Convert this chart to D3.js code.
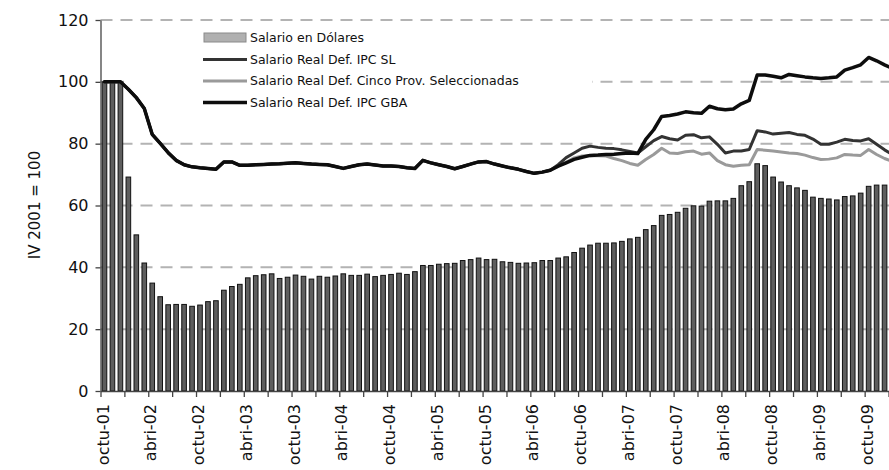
<!DOCTYPE html>
<html><head><meta charset="utf-8">
<script src="https://cdn.jsdelivr.net/npm/d3@7"></script>
<style>
body{margin:0;background:#fff}
svg{display:block}
text{font-family:"DejaVu Sans",Verdana,sans-serif;fill:#111}
</style>
</head><body>
<svg id="c" width="889" height="470"></svg>
<script>
// ---- data ----
const MONTHS = ["ener","febr","marz","abri","mayo","juni","juli","agos","sept","octu","novi","dici"];
const START_YEAR = 2001, START_MONTH = 9; // octubre 2001
const N_CATS = 100;
const categories = d3.range(N_CATS).map(i => {
  const k = START_MONTH + i;
  return MONTHS[k % 12] + "-" + String((START_YEAR + Math.floor(k / 12)) % 100).padStart(2, "0");
});
const yTicks = [0, 20, 40, 60, 80, 100, 120];

const salarioDolares = [
 100,100,100,69.2,50.5,41.4,34.9,30.5,27.9,28.0,
 28.0,27.4,27.8,28.9,29.2,32.6,33.8,34.5,36.6,37.3,
 37.6,37.9,36.4,36.8,37.5,37.1,36.2,37.1,36.8,37.2,
 37.9,37.4,37.4,37.8,37.0,37.4,37.7,38.1,37.7,38.6,
 40.6,40.6,41.0,41.2,41.3,42.2,42.5,43.0,42.5,42.6,
 41.8,41.6,41.3,41.4,41.5,42.2,42.2,43.0,43.4,44.8,
 46.2,47.2,47.8,47.8,47.9,48.4,49.2,49.7,52.2,53.5,
 56.8,57.1,57.8,59.1,59.9,59.8,61.4,61.5,61.5,62.3,
 66.4,67.7,73.5,72.9,69.2,67.6,66.4,65.7,64.9,62.7,
 62.3,62.1,61.8,62.9,63.1,64.0,66.2,66.6,66.6,67.0];

const realSL = [
 100,100,100,97.6,94.9,91.4,83.0,80.1,77.1,74.6,
 73.2,72.5,72.2,72.0,71.7,74.1,74.1,73.0,73.0,73.2,
 73.3,73.4,73.5,73.7,73.8,73.6,73.4,73.3,73.2,72.6,
 72.0,72.6,73.2,73.4,73.1,72.8,72.8,72.6,72.2,72.0,
 74.6,73.8,73.2,72.6,71.9,72.6,73.4,74.1,74.2,73.4,
 72.8,72.2,71.7,71.0,70.4,70.8,71.4,73.2,75.5,77.0,
 78.5,79.2,78.8,78.5,78.4,78.0,77.5,77.0,79.0,81.0,
 82.3,81.6,81.2,82.7,82.9,81.9,82.2,79.8,77.0,77.6,
 77.6,78.1,84.2,83.8,83.1,83.4,83.6,83.0,82.7,81.5,
 79.8,79.8,80.5,81.4,81.0,80.9,81.6,79.8,78.0,76.5];

const realCinco = [
 100,100,100,97.6,94.9,91.4,83.0,80.1,77.1,74.6,
 73.2,72.5,72.2,72.0,71.7,74.1,74.1,73.0,73.0,73.2,
 73.3,73.4,73.5,73.7,73.8,73.6,73.4,73.3,73.2,72.6,
 72.0,72.6,73.2,73.4,73.1,72.8,72.8,72.6,72.2,72.0,
 74.6,73.8,73.2,72.6,71.9,72.6,73.4,74.1,74.2,73.4,
 72.8,72.2,71.7,71.0,70.4,70.8,71.4,72.7,74.0,75.4,
 76.0,76.2,76.1,76.0,75.2,74.5,73.6,73.0,74.9,76.5,
 78.5,77.0,76.8,77.4,77.6,76.6,77.0,74.5,73.2,72.7,
 73.0,73.2,78.1,77.9,77.6,77.3,77.0,76.8,76.3,75.5,
 74.9,75.0,75.4,76.5,76.3,76.2,78.1,76.5,75.2,74.2];

const realGBA = [
 100,100,100,97.6,94.9,91.4,83.0,80.1,77.1,74.6,
 73.2,72.5,72.2,72.0,71.7,74.1,74.1,73.0,73.0,73.2,
 73.3,73.4,73.5,73.7,73.8,73.6,73.4,73.3,73.2,72.6,
 72.0,72.6,73.2,73.4,73.1,72.8,72.8,72.6,72.2,72.0,
 74.6,73.8,73.2,72.6,71.9,72.6,73.4,74.1,74.2,73.4,
 72.8,72.2,71.7,71.0,70.4,70.8,71.4,72.7,73.8,74.9,
 75.6,76.2,76.3,76.5,76.6,76.8,77.0,76.8,81.4,84.5,
 88.8,89.1,89.6,90.3,90.0,89.8,92.1,91.3,91.0,91.2,
 92.9,94.0,102.2,102.2,101.8,101.3,102.4,102.0,101.6,101.3,
 101.1,101.3,101.6,103.8,104.6,105.5,107.9,106.8,105.5,104.3];

const legendLabels = ["Salario en Dólares","Salario Real Def. IPC SL","Salario Real Def. Cinco Prov. Seleccionadas","Salario Real Def. IPC GBA"];
const yTitle = "IV 2001 = 100";

// ---- drawing ----
const svg = d3.select("#c");
const x0 = 100.5, step = 7.96;
const x = d3.scaleBand().domain(categories)
  .range([x0, x0 + step * categories.length])
  .paddingInner(0.42).paddingOuter(0.21);
const xb = d3.scaleLinear().domain([0, categories.length]).range([x0, x0 + step * categories.length]);
const y = d3.scaleLinear().domain([0, 120]).range([391, 20]);
const cx = (i) => x(categories[i]) + x.bandwidth() / 2;

// gridlines
svg.append("g").selectAll("line").data(yTicks.filter(t => t > 0)).join("line")
  .attr("x1", x0).attr("x2", 900)
  .attr("y1", d => y(d)).attr("y2", d => y(d))
  .attr("stroke", "#b3b3b3").attr("stroke-width", 2).attr("stroke-dasharray", "12,8");

// bars
svg.append("g").selectAll("rect").data(salarioDolares).join("rect")
  .attr("x", (d, i) => x(categories[i]))
  .attr("width", x.bandwidth())
  .attr("y", d => y(d))
  .attr("height", d => y(0) - y(d))
  .attr("fill", "#5e5e5e").attr("stroke", "#111").attr("stroke-width", 1);

// legend background
svg.append("rect").attr("x", 124).attr("y", 24).attr("width", 468).attr("height", 88).attr("fill", "#fff");

// lines
const line = d3.line().x((d, i) => cx(i)).y(d => y(d));
const series = [
  {vals: realCinco, color: "#9a9a9a", w: 3},
  {vals: realSL, color: "#333333", w: 3},
  {vals: realGBA, color: "#0d0d0d", w: 3.5}
];
svg.append("g").selectAll("path").data(series).join("path")
  .attr("d", d => line(d.vals)).attr("fill", "none")
  .attr("stroke", d => d.color).attr("stroke-width", d => d.w)
  .attr("stroke-linejoin", "round").attr("stroke-linecap", "round");

// y axis
const yAxis = svg.append("g").attr("transform", `translate(${x0},0)`)
  .call(d3.axisLeft(y).tickValues(yTicks).tickSize(5).tickSizeOuter(0).tickPadding(7));
yAxis.selectAll("path,line").attr("stroke", "#444").attr("stroke-width", 1.3);
yAxis.selectAll("text").style("font-size", "16px").attr("fill", "#111").style("font-family", '"DejaVu Sans",Verdana,sans-serif');

// x axis
const xAxis = svg.append("g").attr("transform", `translate(0,${y(0)})`)
  .call(d3.axisBottom(xb).tickValues(d3.range(0, categories.length + 1, 3)).tickFormat("").tickSize(6).tickSizeOuter(0));
xAxis.selectAll("path,line").attr("stroke", "#444").attr("stroke-width", 1.3);

svg.append("g").selectAll("text").data(categories.filter((c, i) => i % 6 === 0)).join("text")
  .attr("transform", (d, k) => `translate(${xb(k * 6) + 2.5},404) rotate(-90)`)
  .attr("text-anchor", "end").attr("dy", "0.35em")
  .style("font-size", "16px").text(d => d);

// y title
svg.append("text").attr("transform", "translate(35,205) rotate(-90)")
  .attr("text-anchor", "middle").attr("dy", "0.35em").style("font-size", "15px").text(yTitle);

// legend
const lg = svg.append("g");
const ly = [37.5, 59.5, 81, 102.5];
lg.append("rect").attr("x", 204).attr("y", 33).attr("width", 42).attr("height", 9)
  .attr("fill", "#b0b0b0").attr("stroke", "#8a8a8a");
series.slice().sort((a, b) => 0).forEach(() => {});
const legendLines = [
  {c: "#333333", w: 3, yy: ly[1]},
  {c: "#9a9a9a", w: 3, yy: ly[2]},
  {c: "#0d0d0d", w: 3.5, yy: ly[3]}
];
lg.selectAll("line").data(legendLines).join("line")
  .attr("x1", 203).attr("x2", 247).attr("y1", d => d.yy).attr("y2", d => d.yy)
  .attr("stroke", d => d.c).attr("stroke-width", d => d.w);
lg.selectAll("text").data(legendLabels).join("text")
  .attr("x", 250).attr("y", (d, i) => ly[i]).attr("dy", "0.35em")
  .style("font-size", "12.5px").text(d => d);
</script>
</body></html>
